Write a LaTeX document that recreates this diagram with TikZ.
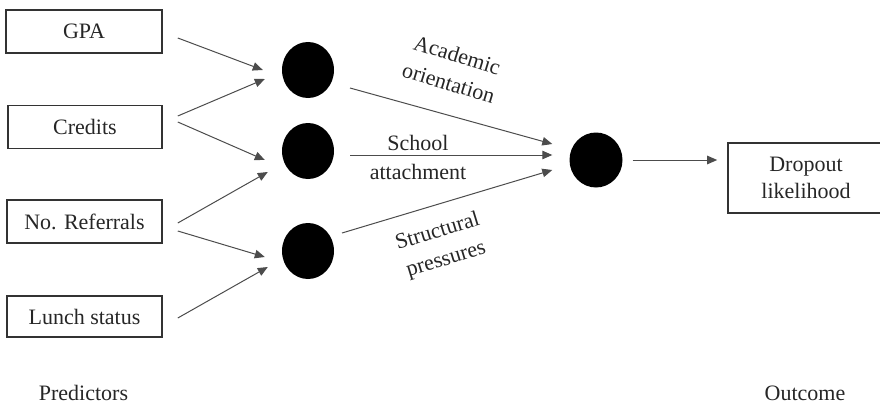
\documentclass[tikz,border=0pt]{standalone}
\usepackage{fontspec}
\setmainfont{Liberation Serif}
\usetikzlibrary{arrows.meta,shapes.geometric}

\tikzset{
  txt/.style={font=\fontsize{22}{27}\selectfont, text=black!85, inner sep=0pt},
  varbox/.style={txt, draw=black!80, line width=1.6pt, minimum height=43pt, align=center},
  latent/.style={ellipse, fill=black, draw=none, minimum width=52pt, minimum height=56pt, inner sep=0pt},
  arr/.style={draw=black!70, line width=1pt, -{Triangle[length=10pt,width=8.5pt]}},
  lab/.style={txt, font=\fontsize{22}{29}\selectfont, align=center}
}

\begin{document}
\begin{tikzpicture}[x=1pt, y=-1pt]
  \useasboundingbox (0,0) rectangle (880,404);
  \clip (0,0) rectangle (880,404);

  % predictor boxes
  \node[varbox, minimum width=156pt] (gpa)     at (84,31.5)  {GPA};
  \node[varbox, minimum width=154pt] (credits) at (85,127)   {Credits};
  \node[varbox, minimum width=155pt] (refs)    at (84.5,221.5) {No. Referrals};
  \node[varbox, minimum width=155pt, minimum height=41pt] (lunch) at (84.5,316.5) {Lunch status};

  % latent factors
  \node[latent] (ao) at (308,70)  {};
  \node[latent] (sa) at (308,151) {};
  \node[latent] (sp) at (308,251) {};
  \node[latent, minimum width=53pt, minimum height=55pt] (risk) at (596,160) {};

  % outcome box
  \node[varbox, minimum width=156pt, minimum height=70pt] (drop) at (806,178) {Dropout\\likelihood};

  % predictors to factors
  \draw[arr] ([shift={(15,6.5)}]gpa.east)      -- ([shift={(-19,0)}]ao.west);
  \draw[arr] ([shift={(15,-11)}]credits.east)  -- ([shift={(-17,9)}]ao.west);
  \draw[arr] ([shift={(15,-5)}]credits.east)   -- ([shift={(-17,9)}]sa.west);
  \draw[arr] ([shift={(15,1.5)}]refs.east)     -- ([shift={(-14,21)}]sa.west);
  \draw[arr] ([shift={(15,9.5)}]refs.east)     -- ([shift={(-17,6)}]sp.west);
  \draw[arr] ([shift={(15,1.5)}]lunch.east)    -- ([shift={(-14,16)}]sp.west);

  % factors to combined risk
  \draw[arr] ([shift={(42,18)}]ao.center)  -- ([shift={(-17,-16)}]risk.west);
  \draw[arr] ([shift={(42,4)}]sa.center)   -- ([shift={(-17,-5)}]risk.west);
  \draw[arr] ([shift={(34,-18)}]sp.center) -- ([shift={(-17,10)}]risk.west);

  % risk to outcome
  \draw[arr] ([shift={(10,0)}]risk.east) -- ([shift={(-10,0)}]drop.west |- risk.east);

  % path labels
  \node[lab, rotate=-17] (lao) at (453,69)  {Academic\\orientation};
  \node[lab]             (lsa) at (418,157.5) {School\\attachment};
  \node[lab, rotate=17]  (lsp) at (442,246) {Structural\\pressures};

  % column headings
  \node[txt] (hpred) at (83.5,393) {Predictors};
  \node[txt] (hout)  at (805,393)  {Outcome};
\end{tikzpicture}
\end{document}
